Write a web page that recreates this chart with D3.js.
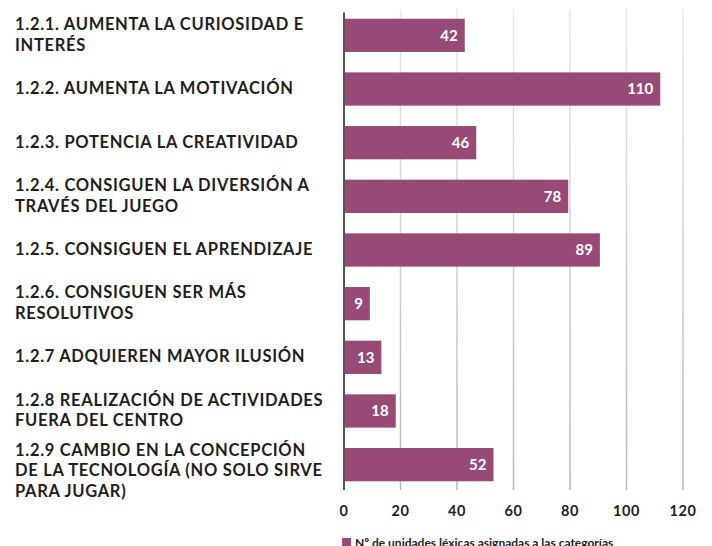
<!DOCTYPE html>
<html>
<head>
<meta charset="utf-8">
<script src="https://cdn.jsdelivr.net/npm/d3@7"></script>
<style>
  body { margin: 0; background: #fff; }
  svg text { font-family: Lato, "Open Sans", sans-serif; }
</style>
</head>
<body>
<svg id="chart" width="712" height="546"></svg>
<script>
// categories, each split into the lines shown in the chart
const categories = [
  ['1.2.1. AUMENTA LA CURIOSIDAD E', 'INTERÉS'],
  ['1.2.2. AUMENTA LA MOTIVACIÓN'],
  ['1.2.3. POTENCIA LA CREATIVIDAD'],
  ['1.2.4. CONSIGUEN LA DIVERSIÓN A', 'TRAVÉS DEL JUEGO'],
  ['1.2.5. CONSIGUEN EL APRENDIZAJE'],
  ['1.2.6. CONSIGUEN SER MÁS', 'RESOLUTIVOS'],
  ['1.2.7 ADQUIEREN MAYOR ILUSIÓN'],
  ['1.2.8 REALIZACIÓN DE ACTIVIDADES', 'FUERA DEL CENTRO'],
  ['1.2.9 CAMBIO EN LA CONCEPCIÓN', 'DE LA TECNOLOGÍA (NO SOLO SIRVE', 'PARA JUGAR)']
];
const values = [42, 110, 46, 78, 89, 9, 13, 18, 52];
const xTicks = [0, 20, 40, 60, 80, 100, 120];
const legendLabel = 'Nº de unidades léxicas asignadas a las categorías';

const color = '#984a77';
const svg = d3.select('#chart');

// the bars in the source run slightly longer than the grid spacing
const x = d3.scaleLinear().domain([0, 120]).range([344, 689]);
const xGrid = d3.scaleLinear().domain([0, 120]).range([344, 683]);
const y = d3.scaleBand()
  .domain(d3.range(values.length))
  .range([8, 492])
  .paddingInner(0.38)
  .paddingOuter(0.2);

const grad = svg.append('defs')
  .append('linearGradient')
  .attr('id', 'gridFade')
  .attr('gradientUnits', 'userSpaceOnUse')
  .attr('x1', 0).attr('y1', 9)
  .attr('x2', 0).attr('y2', 490);
grad.append('stop').attr('offset', 0).attr('stop-color', '#e8e8e8');
grad.append('stop').attr('offset', 1).attr('stop-color', '#b8b8b8');

// grid
svg.append('g')
  .selectAll('rect')
  .data(xTicks.slice(1))
  .enter()
  .append('rect')
  .attr('x', d => xGrid(d) - 0.75)
  .attr('width', 1.5)
  .attr('y', 9)
  .attr('height', 481)
  .attr('fill', 'url(#gridFade)');

// bars
svg.append('g')
  .selectAll('rect')
  .data(values)
  .enter()
  .append('rect')
  .attr('x', x(0))
  .attr('y', (d, i) => y(i))
  .attr('width', d => x(d) - x(0))
  .attr('height', y.bandwidth())
  .attr('fill', color);

// value labels
svg.append('g')
  .selectAll('text')
  .data(values)
  .enter()
  .append('text')
  .attr('x', d => x(d) - 7)
  .attr('y', (d, i) => y(i) + y.bandwidth() / 2)
  .attr('dy', '0.36em')
  .attr('text-anchor', 'end')
  .attr('fill', '#fff')
  .attr('font-size', 15)
  .attr('font-weight', 700)
  .text(d => d);

// axis line
svg.append('line')
  .attr('x1', x(0))
  .attr('x2', x(0))
  .attr('y1', 12.5)
  .attr('y2', 490)
  .attr('stroke', '#555')
  .attr('stroke-width', 2);

// x tick labels
svg.append('g')
  .selectAll('text')
  .data(xTicks)
  .enter()
  .append('text')
  .attr('x', d => xGrid(d))
  .attr('y', 515.5)
  .attr('text-anchor', 'middle')
  .attr('fill', '#222')
  .attr('font-size', 14.5)
  .attr('font-weight', 700)
  .attr('letter-spacing', 0.6)
  .text(d => d);

// category labels
const lineH = 20.5;
const labels = svg.append('g')
  .selectAll('text')
  .data(categories)
  .enter()
  .append('text')
  .attr('fill', '#1e1e1e')
  .attr('font-size', 16.5)
  .attr('font-weight', 700)
  .attr('letter-spacing', 0.7);

labels.each(function (lines, i) {
  const cy = y(i) + y.bandwidth() / 2;
  const top = Math.max(cy - (lines.length - 1) * lineH / 2 - 1, y(i) + 2);
  d3.select(this).selectAll('tspan')
    .data(lines)
    .enter()
    .append('tspan')
    .attr('x', 15)
    .attr('y', (d, j) => top + j * lineH)
    .attr('dy', '0.36em')
    .text(d => d);
});

// legend
svg.append('rect')
  .attr('x', 342)
  .attr('y', 538)
  .attr('width', 9)
  .attr('height', 9)
  .attr('fill', color);
svg.append('text')
  .attr('x', 355)
  .attr('y', 547)
  .attr('fill', '#222')
  .attr('font-size', 12)
  .attr('font-weight', 700)
  .text(legendLabel);
</script>
</body>
</html>
